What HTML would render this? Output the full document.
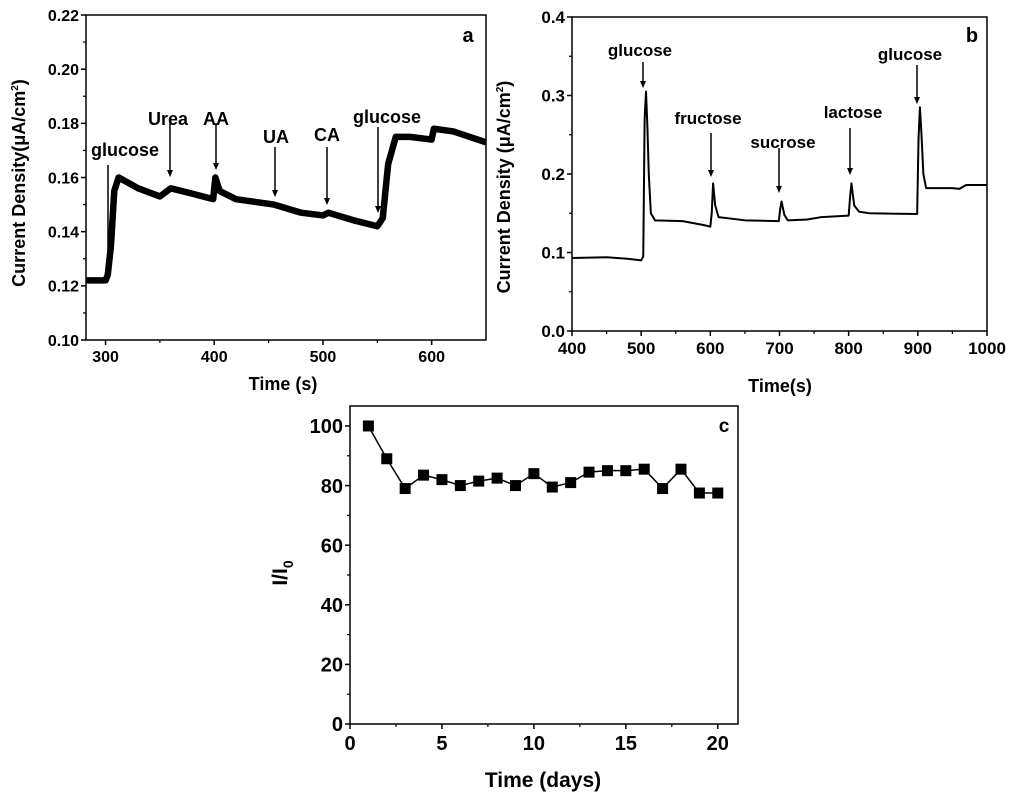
<!DOCTYPE html>
<html><head><meta charset="utf-8"><style>
html,body{margin:0;padding:0;background:#fff;}
svg{display:block;font-family:"Liberation Sans",Arial,sans-serif;font-weight:bold;}
</style></head><body>
<svg id="fig" width="1024" height="797" viewBox="0 0 1024 797" xmlns="http://www.w3.org/2000/svg"></svg>
<script>
// Panel a data
const aTimes = [282,300,302,305,308,312,330,350,360,380,399,401,405,420,455,480,500,505,530,550,555,560,567,580,600,602,620,650];
const aValues = [0.122,0.122,0.124,0.135,0.155,0.160,0.156,0.153,0.156,0.154,0.152,0.160,0.155,0.152,0.150,0.147,0.146,0.147,0.144,0.142,0.145,0.165,0.175,0.175,0.174,0.178,0.177,0.173];
const aXTicks = [300,400,500,600];
const aYTicks = [0.10,0.12,0.14,0.16,0.18,0.20,0.22];
const aLabels = ["glucose","Urea","AA","UA","CA","glucose"];
// Panel b data
const bTimes = [400,450,480,500,503,505,507,509,511,514,520,560,590,600,602,604,607,612,650,699,701,703,707,712,740,760,800,802,804,808,815,830,899,901,903,905,908,912,950,960,970,1000];
const bValues = [0.093,0.094,0.092,0.090,0.095,0.270,0.305,0.260,0.200,0.150,0.141,0.140,0.135,0.133,0.150,0.188,0.160,0.145,0.141,0.140,0.155,0.165,0.148,0.141,0.142,0.145,0.147,0.170,0.188,0.160,0.152,0.150,0.149,0.245,0.285,0.255,0.200,0.182,0.182,0.181,0.186,0.186];
const bXTicks = [400,500,600,700,800,900,1000];
const bYTicks = [0.0,0.1,0.2,0.3,0.4];
const bLabels = ["glucose","fructose","sucrose","lactose","glucose"];
// Panel c data
const cDays = [1,2,3,4,5,6,7,8,9,10,11,12,13,14,15,16,17,18,19,20];
const cValues = [100,89,79,83.5,82,80,81.5,82.5,80,84,79.5,81,84.5,85,85,85.5,79,85.5,77.5,77.5];
const cXTicks = [0,5,10,15,20];
const cYTicks = [0,20,40,60,80,100];

const NS = "http://www.w3.org/2000/svg";
const svg = document.getElementById('fig');
function mk(tag, attrs, parent, txt){
  const e = document.createElementNS(NS, tag);
  for (const k in attrs) e.setAttribute(k, attrs[k]);
  if (txt !== undefined) e.textContent = txt;
  (parent || svg).appendChild(e);
  return e;
}
function scale(d0,d1,r0,r1){ return v => r0 + (v-d0)/(d1-d0)*(r1-r0); }

function axes(P, name){
  const g = mk('g', {});
  
  
  const fr = mk('rect', {x:P.l, y:P.t, width:P.r-P.l, height:P.b-P.t, fill:'none', stroke:'#000', 'stroke-width':1.5}, g);
  
  
  P.xt.forEach((v,i) => {
    const x = P.x(v);
    mk('line', {x1:x, x2:x, y1:P.b, y2:P.b+5, stroke:'#000', 'stroke-width':1.5}, g);
    const t = mk('text', {x:x, y:P.b+P.fs+6, 'text-anchor':'middle', 'font-size':P.fs}, g, P.xfmt(v));
    
    
    if (i < P.xt.length-1) {
      const xm = P.x((v + P.xt[i+1])/2);
      mk('line', {x1:xm, x2:xm, y1:P.b, y2:P.b+3, stroke:'#000', 'stroke-width':1.2}, g);
    }
  });
  P.yt.forEach((v,i) => {
    const y = P.y(v);
    mk('line', {x1:P.l-5, x2:P.l, y1:y, y2:y, stroke:'#000', 'stroke-width':1.5}, g);
    const t = mk('text', {x:P.l-7, y:y+P.fs*0.36, 'text-anchor':'end', 'font-size':P.fs}, g, P.yfmt(v));
    
    
    if (i < P.yt.length-1) {
      const ym = P.y((v + P.yt[i+1])/2);
      mk('line', {x1:P.l-3, x2:P.l, y1:ym, y2:ym, stroke:'#000', 'stroke-width':1.2}, g);
    }
  });
  return g;
}
function arrow(g, x, y1, y2){
  mk('line', {x1:x, x2:x, y1:y1, y2:y2-5, stroke:'#000', 'stroke-width':1.5}, g);
  mk('polygon', {points:`${x-3},${y2-7} ${x+3},${y2-7} ${x},${y2}`, fill:'#000'}, g);
}

// ---------- Panel a ----------
const A = {l:86, r:486, t:15, b:340, fs:16, xt:aXTicks, yt:aYTicks, xfmt:v=>v, yfmt:v=>v.toFixed(2)};
A.x = scale(282, 650, A.l, A.r); A.y = scale(0.10, 0.22, A.b, A.t);
const ga = axes(A, 'panel-a');
const pa = mk('polyline', {points: aTimes.map((t,i)=>A.x(t)+','+A.y(aValues[i])).join(' '), fill:'none', stroke:'#000', 'stroke-width':6.5, 'stroke-linejoin':'round'}, ga);


const aAnn = [[125,156,108,165,277],[168,125,170,120,177],[216,125,216,123,170],[276,143,275,147,197],[327,141,327,147,205],[387,123,378,127,213]];
aAnn.forEach((an,i) => {
  const t = mk('text', {x:an[0], y:an[1], 'text-anchor':'middle', 'font-size':18}, ga, aLabels[i]);
  
  
  arrow(ga, an[2], an[3], an[4]);
});
mk('text', {x:468, y:42, 'text-anchor':'middle', 'font-size':20}, ga, 'a');
const ya = mk('text', {x:0, y:0, 'text-anchor':'middle', 'font-size':18, transform:'translate(25,183) rotate(-90)'}, ga);
 
ya.innerHTML = 'Current Density(μA/cm<tspan dy="-7" font-size="10">2</tspan><tspan dy="7">)</tspan>';
const xa = mk('text', {x:283, y:390, 'text-anchor':'middle', 'font-size':18}, ga, 'Time (s)');
 

// ---------- Panel b ----------
const B = {l:572, r:987, t:17, b:331, fs:17, xt:bXTicks, yt:bYTicks, xfmt:v=>v, yfmt:v=>v.toFixed(1)};
B.x = scale(400, 1000, B.l, B.r); B.y = scale(0, 0.4, B.b, B.t);
const gb = axes(B, 'panel-b');
const pb = mk('polyline', {points: bTimes.map((t,i)=>B.x(t)+','+B.y(bValues[i])).join(' '), fill:'none', stroke:'#000', 'stroke-width':2, 'stroke-linejoin':'round'}, gb);


const bAnn = [[640,56,643,62,88],[708,124,711,133,177],[783,148,779,148,193],[853,118,850,128,175],[910,60,917,65,104]];
bAnn.forEach((an,i) => {
  const t = mk('text', {x:an[0], y:an[1], 'text-anchor':'middle', 'font-size':17}, gb, bLabels[i]);
  
  
  arrow(gb, an[2], an[3], an[4]);
});
mk('text', {x:972, y:42, 'text-anchor':'middle', 'font-size':20}, gb, 'b');
const yb = mk('text', {x:0, y:0, 'text-anchor':'middle', 'font-size':18, transform:'translate(510,187) rotate(-90)'}, gb);
 
yb.innerHTML = 'Current Density (μA/cm<tspan dy="-7" font-size="10">2</tspan><tspan dy="7">)</tspan>';
const xb = mk('text', {x:780, y:392, 'text-anchor':'middle', 'font-size':18}, gb, 'Time(s)');
 

// ---------- Panel c ----------
const C = {l:350, r:738, t:406, b:724, fs:20, xt:cXTicks, yt:cYTicks, xfmt:v=>v, yfmt:v=>v};
C.x = scale(0, 21.1, C.l, C.r); C.y = scale(0, 106.7, C.b, C.t);
const gc = axes(C, 'panel-c');
const pc = mk('polyline', {points: cDays.map((d,i)=>C.x(d)+','+C.y(cValues[i])).join(' '), fill:'none', stroke:'#000', 'stroke-width':1.5}, gc);


cDays.forEach((d,i) => {
  const m = mk('rect', {x:C.x(d)-5.5, y:C.y(cValues[i])-5.5, width:11, height:11, fill:'#000'}, gc);
  
  
});
mk('text', {x:724, y:432, 'text-anchor':'middle', 'font-size':19}, gc, 'c');
const yc = mk('text', {x:0, y:0, 'text-anchor':'middle', 'font-size':21, transform:'translate(287,573) rotate(-90)'}, gc);
 
yc.innerHTML = 'I/I<tspan dy="6" font-size="14">0</tspan>';
const xc = mk('text', {x:543, y:787, 'text-anchor':'middle', 'font-size':21}, gc, 'Time (days)');
 
</script>
</body></html>
